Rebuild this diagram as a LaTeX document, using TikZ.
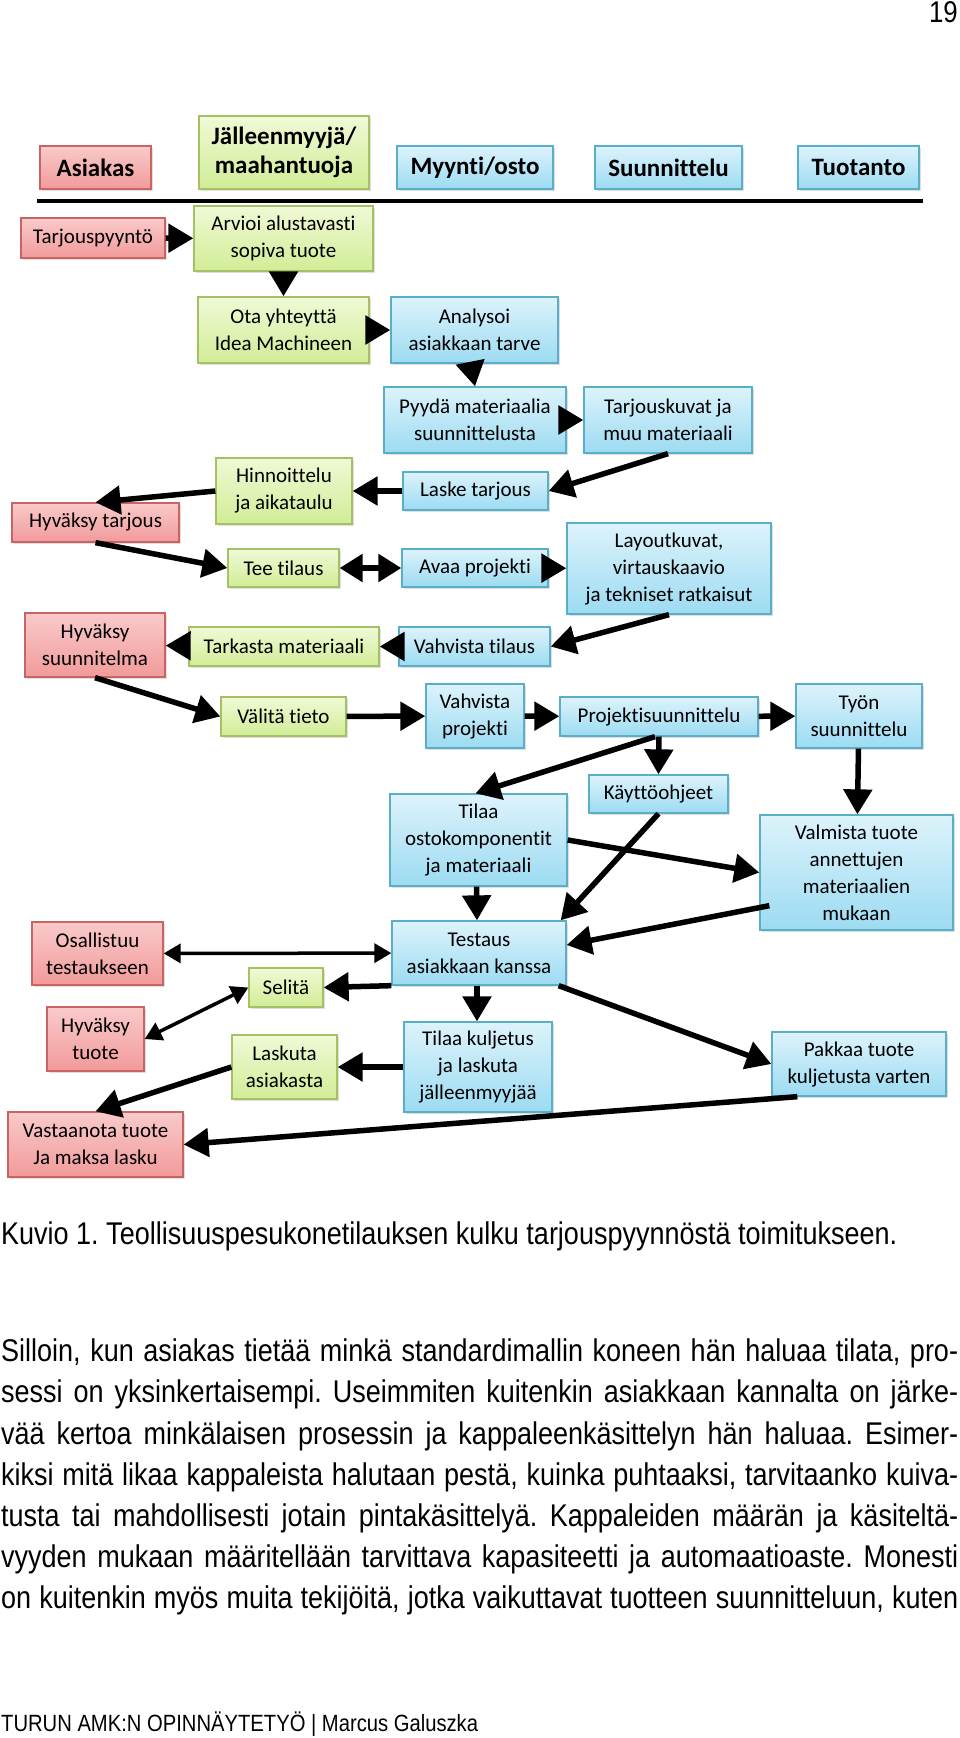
\documentclass[tikz,border=0pt]{standalone}
\usepackage{fontspec}
\setmainfont{Carlito}[Ligatures=NoCommon]
\newfontfamily\bodyfont[FakeStretch=0.86]{Liberation Sans}
\usetikzlibrary{arrows.meta,shadows}
\frenchspacing

\definecolor{asline}{HTML}{C86464}
\definecolor{astop}{HTML}{F9CACA}
\definecolor{asbot}{HTML}{F29A9A}
\definecolor{jmline}{HTML}{A5C065}
\definecolor{jmtop}{HTML}{F0F9D6}
\definecolor{jmbot}{HTML}{D1ED96}
\definecolor{imline}{HTML}{5AAFC8}
\definecolor{imtop}{HTML}{DDF3FB}
\definecolor{imbot}{HTML}{9CDBF2}

\begin{document}
\begin{tikzpicture}[x=1pt,y=-1pt,
    box/.style={draw, line width=1.3pt, inner sep=0pt, align=center,
      font=\fontsize{21}{27}\selectfont,
      drop shadow={opacity=0.25, shadow xshift=2pt, shadow yshift=-2pt}},
    head/.style={box, font=\bfseries\fontsize{25}{29}\selectfont},
    asiakas/.style={draw=asline, top color=astop, bottom color=asbot},
    jalleen/.style={draw=jmline, top color=jmtop, bottom color=jmbot},
    idea/.style={draw=imline, top color=imtop, bottom color=imbot},
    wh/.style 2 args={minimum width=#1pt, minimum height=#2pt},
    flow/.style={line width=5.5pt, -{Triangle[length=25pt,width=28pt]}},
    flowboth/.style={line width=5.5pt, {Triangle[length=23pt,width=27pt]}-{Triangle[length=23pt,width=27pt]}},
    flowthin/.style={line width=3.5pt, {Triangle[length=17pt,width=19pt]}-{Triangle[length=17pt,width=19pt]}},
    bodytext/.style={anchor=base west, inner sep=0pt, font=\bodyfont\fontsize{31.4}{36}\selectfont}]
  \useasboundingbox (0,0) rectangle (960,1738);

  \node[anchor=base east, inner sep=0pt, font=\bodyfont\fontsize{30}{36}\selectfont] (sivu) at (958,22) {19};

  \node[head, asiakas, wh={111}{43}] (hasiakas) at (95.5,167.5) {Asiakas};
  \node[head, jalleen, wh={170}{73}] (hjalleen) at (284,152.5) {Jälleenmyyjä/\\maahantuoja};
  \node[head, idea, wh={156}{43}] (hmyynti) at (475,167.5) {Myynti/osto};
  \node[head, idea, wh={147}{43}] (hsuunn) at (668.5,167.5) {Suunnittelu};
  \node[head, idea, wh={121}{43}] (htuot) at (858.5,167.5) {Tuotanto};
  \draw[line width=4pt] (37,201) -- (923,201);

  \node[box, asiakas, wh={144}{40}] (tarjpyynto) at (93,238) {Tarjouspyyntö};
  \node[box, jalleen, wh={179}{65}] (arvioi) at (283.5,238.5) {Arvioi alustavasti\\sopiva tuote};
  \node[box, jalleen, wh={171}{66}] (ota) at (283.5,330) {Ota yhteyttä\\Idea Machineen};
  \node[box, idea, wh={167}{66}] (analysoi) at (474.5,330) {Analysoi\\asiakkaan tarve};
  \node[box, idea, wh={182}{66}] (pyyda) at (475,420) {Pyydä materiaalia\\suunnittelusta};
  \node[box, idea, wh={168}{66}] (tarjkuvat) at (668,420) {Tarjouskuvat ja\\muu materiaali};
  \node[box, idea, wh={145}{38}] (laske) at (475.5,491) {Laske tarjous};
  \node[box, jalleen, wh={136}{66}] (hinnoittelu) at (284,491) {Hinnoittelu\\ja aikataulu};
  \node[box, asiakas, wh={167}{39}] (hyvtarjous) at (95.5,522.5) {Hyväksy tarjous};
  \node[box, jalleen, wh={111}{38}] (teetilaus) at (283.5,568) {Tee tilaus};
  \node[box, idea, wh={146}{38}] (avaa) at (475,568) {Avaa projekti};
  \node[box, idea, wh={204}{91}] (layout) at (669,568.5) {Layoutkuvat,\\virtauskaavio\\ja tekniset ratkaisut};
  \node[box, idea, wh={151}{39}] (vahvtilaus) at (474.5,646.5) {Vahvista tilaus};
  \node[box, jalleen, wh={190}{39}] (tarkasta) at (284,646.5) {Tarkasta materiaali};
  \node[box, asiakas, wh={140}{64}] (hyvsuunn) at (95,645) {Hyväksy\\suunnitelma};
  \node[box, jalleen, wh={125}{39}] (valita) at (283.5,716.5) {Välitä tieto};
  \node[box, idea, wh={98}{64}] (vahvproj) at (475,716) {Vahvista\\projekti};
  \node[box, idea, wh={198}{39}] (projsuunn) at (659,716.5) {Projektisuunnittelu};
  \node[box, idea, wh={126}{64}] (tyon) at (859,716) {Työn\\suunnittelu};
  \node[box, idea, wh={139}{38}] (kaytto) at (658.5,794) {Käyttöohjeet};
  \node[box, idea, wh={177}{92}] (tilaaosto) at (478.5,840) {Tilaa\\ostokomponentit\\ja materiaali};
  \node[box, idea, wh={193}{115}] (valmista) at (856.5,872.5) {Valmista tuote\\annettujen\\materiaalien\\mukaan};
  \node[box, idea, wh={174}{64}] (testaus) at (479,953) {Testaus\\asiakkaan kanssa};
  \node[box, asiakas, wh={131}{63}] (osallistuu) at (97.5,953.5) {Osallistuu\\testaukseen};
  \node[box, jalleen, wh={74}{39}] (selita) at (286,987.5) {Selitä};
  \node[box, asiakas, wh={97}{64}] (hyvtuote) at (95.5,1039) {Hyväksy\\tuote};
  \node[box, idea, wh={148}{90}] (tilaakulj) at (478,1067) {Tilaa kuljetus\\ja laskuta\\jälleenmyyjää};
  \node[box, jalleen, wh={105}{64}] (laskuta) at (284.5,1067) {Laskuta\\asiakasta};
  \node[box, asiakas, wh={175}{65}] (vastaanota) at (95.5,1144.5) {Vastaanota tuote\\Ja maksa lasku};
  \node[box, idea, wh={174}{64}] (pakkaa) at (859,1064) {Pakkaa tuote\\kuljetusta varten};

  \draw[flow] (tarjpyynto) -- (arvioi);
  \draw[flow] (arvioi) -- (ota);
  \draw[flow] (ota) -- (analysoi);
  \draw[flow] ([xshift=-4pt]analysoi.south) -- (pyyda.north);
  \draw[flow] (pyyda) -- (tarjkuvat);
  \draw[flow] (tarjkuvat.south) -- (laske.east);
  \draw[flow] (laske) -- (hinnoittelu);
  \draw[flow] (hinnoittelu.west) -- (hyvtarjous.north);
  \draw[flow] (hyvtarjous.south) -- (teetilaus.west);
  \draw[flowboth] (teetilaus) -- (avaa);
  \draw[flow] (avaa) -- (layout);
  \draw[flow] (layout.south) -- (vahvtilaus.east);
  \draw[flow] (vahvtilaus) -- (tarkasta);
  \draw[flow] (tarkasta) -- (hyvsuunn);
  \draw[flow] (hyvsuunn.south) -- (valita.west);
  \draw[flow] (valita) -- (vahvproj);
  \draw[flow] (vahvproj) -- (projsuunn);
  \draw[flow] (projsuunn) -- (tyon);
  \draw[flow] (tyon) -- (valmista);
  \draw[flow] (projsuunn.south) -- (kaytto.north);
  \draw[flow] ([xshift=-4pt]projsuunn.south) -- ([xshift=-3pt]tilaaosto.north);
  \draw[flow] (tilaaosto.east) -- (valmista.west);
  \draw[flow] (kaytto.south) -- ([xshift=-6pt]testaus.north east);
  \draw[flow] ([xshift=-2pt]tilaaosto.south) -- ([xshift=-2pt]testaus.north);
  \draw[flow] ([xshift=10pt,yshift=25pt]valmista.south west) -- ([yshift=8pt]testaus.east);
  \draw[flowthin] (osallistuu) -- (testaus);
  \draw[flow] (testaus.south west) -- (selita.east);
  \draw[flowthin] (selita.west) -- (hyvtuote.east);
  \draw[flow] ([xshift=-2pt]testaus.south) -- ([xshift=-1pt]tilaakulj.north);
  \draw[flow] (tilaakulj) -- (laskuta);
  \draw[flow] (laskuta.west) -- (vastaanota.north);
  \draw[flow] ([xshift=-8pt]testaus.south east) -- (pakkaa.west);
  \draw[flow] ([xshift=26pt]pakkaa.south west) -- (vastaanota.east);

  \node[bodytext] (kuvio) at (1,1244) {Kuvio 1. Teollisuuspesukonetilauksen kulku tarjouspyynnöstä toimitukseen.};
  \node[bodytext] (rivi1) at (1,1361) {\makebox[957pt][s]{Silloin, kun asiakas tietää minkä standardimallin koneen hän haluaa tilata, pro-}};
  \node[bodytext] (rivi2) at (1,1402) {\makebox[957pt][s]{sessi on yksinkertaisempi. Useimmiten kuitenkin asiakkaan kannalta on järke-}};
  \node[bodytext] (rivi3) at (1,1444) {\makebox[957pt][s]{vää kertoa minkälaisen prosessin ja kappaleenkäsittelyn hän haluaa. Esimer-}};
  \node[bodytext] (rivi4) at (1,1485) {\makebox[957pt][s]{kiksi mitä likaa kappaleista halutaan pestä, kuinka puhtaaksi, tarvitaanko kuiva-}};
  \node[bodytext] (rivi5) at (1,1526) {\makebox[957pt][s]{tusta tai mahdollisesti jotain pintakäsittelyä. Kappaleiden määrän ja käsiteltä-}};
  \node[bodytext] (rivi6) at (1,1567) {\makebox[957pt][s]{vyyden mukaan määritellään tarvittava kapasiteetti ja automaatioaste. Monesti}};
  \node[bodytext] (rivi7) at (1,1608) {\makebox[957pt][s]{on kuitenkin myös muita tekijöitä, jotka vaikuttavat tuotteen suunnitteluun, kuten}};
  \node[anchor=base west, inner sep=0pt, font=\bodyfont\fontsize{23.5}{27}\selectfont] (alatunniste) at (1,1731) {TURUN AMK:N OPINNÄYTETYÖ | Marcus Galuszka};
\end{tikzpicture}
\end{document}
